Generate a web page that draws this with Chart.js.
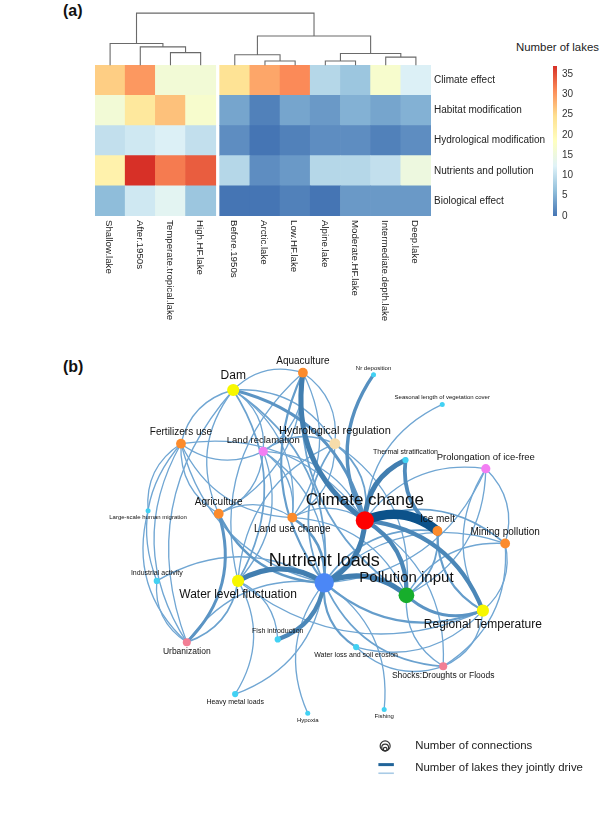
<!DOCTYPE html>
<html>
<head>
<meta charset="utf-8">
<script src="https://cdn.jsdelivr.net/npm/chart.js@4.4.1/dist/chart.umd.min.js"></script>
<style>
  html, body { margin: 0; padding: 0; background: #fff; }
  body { width: 600px; height: 817px; position: relative; overflow: hidden; font-family: "Liberation Sans", Arial, sans-serif; }
  canvas { position: absolute; }
  .panel { position: absolute; font-weight: bold; font-size: 16px; line-height: 18px; color: #111; }
  #legendTitle { position: absolute; left: 516px; top: 41px; font-size: 11.4px; line-height: 13px; color: #222; white-space: nowrap; }
</style>
</head>
<body>
<div class="panel" style="left:63px;top:2px">(a)</div>
<div class="panel" style="left:63px;top:358px">(b)</div>
<div id="legendTitle">Number of lakes</div>
<canvas id="heat" width="600" height="340" style="left:0;top:0"></canvas>
<canvas id="scale" width="100" height="230" style="left:500px;top:0"></canvas>
<canvas id="net" width="600" height="477" style="left:0;top:340px"></canvas>
<script>
Chart.defaults.font.family = '"Liberation Sans", Arial, sans-serif';

// ---------- (a) heatmap: drivers x lake types ----------
const lakeTypes = ['Shallow.lake', 'After.1950s', 'Temperate.tropical.lake', 'High.HF.lake',
  'Before.1950s', 'Arctic.lake', 'Low.HF.lake', 'Alpine.lake', 'Moderate.HF.lake',
  'Intermediate.depth.lake', 'Deep.lake'];
const driverTypes = ['Climate effect', 'Habitat modification', 'Hydrological modification',
  'Nutrients and pollution', 'Biological effect'];

const climateEffect = [26, 30, 16, 16, 24, 29, 31, 9, 7, 17, 12];
const habitatModification = [16, 23, 27, 17, 4, 1, 4, 3, 5, 4, 5];
const hydrologicalModification = [10, 11, 12, 10, 2, 0, 1, 2, 2, 1, 2];
const nutrientsPollution = [21, 37, 32, 34, 9, 2, 3, 9, 9, 10, 15];
const biologicalEffect = [6, 11, 13, 7, 0, 0, 1, 0, 3, 3, 3];
const heatValues = [climateEffect, habitatModification, hydrologicalModification, nutrientsPollution, biologicalEffect];

// column clustering, hclust style (negative = leaf, positive = earlier merge)
const colMerge = [[-3, -4], [-2, 1], [-1, 2], [-6, -7], [-8, -9], [-10, -11], [-5, 4], [5, 6], [7, 8], [3, 9]];
const colHeight = [0.42, 0.61, 0.72, 0.14, 0.14, 0.27, 0.35, 0.39, 0.97, 1.73];
const colCluster = [1, 1, 1, 1, 2, 2, 2, 2, 2, 2, 2];
const keyTicks = [0, 5, 10, 15, 20, 25, 30, 35];

const ramp = ['#4575B4', '#91BFDB', '#E0F3F8', '#FFFFBF', '#FEE090', '#FC8D59', '#D73027'];
const maxLakes = Math.max(...heatValues.flat());
const colPos = lakeTypes.map((_, i) => i + (colCluster[i] - 1) * 0.13);

function hexRgb(h) {
  const n = parseInt(h.slice(1), 16);
  return [(n >> 16) & 255, (n >> 8) & 255, n & 255];
}
function heatColor(v) {
  const t = Math.max(0, Math.min(1, v / maxLakes)) * (ramp.length - 1);
  const i = Math.min(Math.floor(t), ramp.length - 2);
  const f = t - i;
  const a = hexRgb(ramp[i]), b = hexRgb(ramp[i + 1]);
  return 'rgb(' + a.map((c, k) => Math.round(c + (b[k] - c) * f)).join(',') + ')';
}

const dendroPlugin = {
  id: 'dendro',
  afterDatasetsDraw(chart) {
    const { ctx, scales: { x, y } } = chart;
    const base = driverTypes.length;
    const mid = [];
    const node = k => k < 0
      ? { x: x.getPixelForValue(colPos[-k - 1]), h: 0 }
      : { x: mid[k - 1], h: colHeight[k - 1] };
    ctx.save();
    ctx.strokeStyle = '#6a6a6a';
    ctx.lineWidth = 1.1;
    ctx.beginPath();
    colMerge.forEach(([a, b], m) => {
      const A = node(a), B = node(b);
      const top = y.getPixelForValue(base + colHeight[m]);
      ctx.moveTo(A.x, y.getPixelForValue(base + A.h));
      ctx.lineTo(A.x, top);
      ctx.lineTo(B.x, top);
      ctx.lineTo(B.x, y.getPixelForValue(base + B.h));
      mid.push((A.x + B.x) / 2);
    });
    ctx.stroke();
    ctx.restore();
  }
};

const colLabelPlugin = {
  id: 'colLabels',
  afterDraw(chart) {
    const { ctx, scales: { x, y } } = chart;
    const top = y.getPixelForValue(0) + 4;
    ctx.save();
    ctx.fillStyle = '#222';
    ctx.font = '9.7px "Liberation Sans", Arial, sans-serif';
    ctx.textAlign = 'left';
    ctx.textBaseline = 'middle';
    lakeTypes.forEach((name, i) => {
      ctx.save();
      ctx.translate(x.getPixelForValue(colPos[i]) - 1, top);
      ctx.rotate(Math.PI / 2);
      ctx.fillText(name, 0, 0);
      ctx.restore();
    });
    ctx.restore();
  }
};

const heatDatasets = driverTypes.map((name, r) => ({
  label: name,
  data: colPos.map(x => ({ x: x, y: 1 })),
  backgroundColor: heatValues[r].map(heatColor),
  borderWidth: 0,
  barPercentage: 1,
  categoryPercentage: 1
})).reverse();

new Chart(document.getElementById('heat'), {
  type: 'bar',
  data: { datasets: heatDatasets },
  options: {
    responsive: false,
    animation: false,
    layout: { padding: { left: 95, top: 12.5, bottom: 124, right: 0 } },
    plugins: { legend: { display: false }, tooltip: { enabled: false } },
    scales: {
      x: {
        type: 'linear', stacked: true, display: false, offset: false,
        min: colPos[0] - 0.5, max: colPos[colPos.length - 1] + 0.5,
        afterBuildTicks: s => { s.ticks = colPos.map(v => ({ value: v })); }
      },
      y: {
        stacked: true, position: 'right', min: 0, max: driverTypes.length + 1.75,
        afterFit: s => { s.width = 169; },
        afterBuildTicks: s => { s.ticks = driverTypes.map((_, i) => ({ value: i + 0.5 })); },
        grid: { display: false, drawTicks: false },
        border: { display: false },
        ticks: {
          autoSkip: false, padding: 3, color: '#222', font: { size: 10 },
          callback: v => driverTypes[driverTypes.length - 1 - Math.floor(v)]
        }
      }
    }
  },
  plugins: [dendroPlugin, colLabelPlugin]
});

// colour key
function keyGradient(chart) {
  const { ctx, chartArea, scales } = chart;
  if (!chartArea) return ramp[0];
  const g = ctx.createLinearGradient(0, scales.y.getPixelForValue(0), 0, scales.y.getPixelForValue(maxLakes));
  ramp.forEach((c, i) => g.addColorStop(i / (ramp.length - 1), c));
  return g;
}

new Chart(document.getElementById('scale'), {
  type: 'bar',
  data: {
    labels: [''],
    datasets: [{ data: [[0, maxLakes]], backgroundColor: c => keyGradient(c.chart), borderWidth: 0, barPercentage: 1, categoryPercentage: 1 }]
  },
  options: {
    responsive: false,
    animation: false,
    layout: { padding: { left: 53, top: 66, bottom: 14, right: 0 } },
    plugins: { legend: { display: false }, tooltip: { enabled: false } },
    scales: {
      x: { display: false },
      y: {
        position: 'right', min: 0, max: maxLakes,
        afterFit: s => { s.width = 43; },
        afterBuildTicks: s => { s.ticks = keyTicks.map(v => ({ value: v })); },
        grid: { display: false, drawTicks: false },
        border: { display: false },
        ticks: { autoSkip: false, padding: 5, color: '#333', font: { size: 10 } }
      }
    }
  }
});

// ---------- (b) network of drivers ----------
const factors = ['Aquaculture', 'Dam', 'Nr deposition', 'Seasonal length of vegetation cover',
  'Fertilizers use', 'Land reclamation', 'Hydrological regulation', 'Thermal stratification',
  'Prolongation of ice-free', 'Large-scale human migration', 'Agriculture', 'Land use change',
  'Climate change', 'Ice melt', 'Mining pollution', 'Industrial activity', 'Water level fluctuation',
  'Nutrient loads', 'Pollution input', 'Regional Temperature', 'Urbanization', 'Fish introduction',
  'Water loss and soil erosion', 'Shocks:Droughts or Floods', 'Heavy metal loads', 'Hypoxia', 'Fishing'];
const layoutX = [303, 231, 376, 447, 177, 262, 336, 409, 492, 143, 216, 292, 367, 442, 512, 152, 236, 325, 410, 489, 183, 277, 358, 448, 233, 308, 387];
const layoutY = [24, 42, 26, 57, 98, 106, 98, 115, 124, 168, 171, 175, 178, 189, 202, 241, 241, 243, 256, 272, 305, 302, 310, 330, 359, 379, 375];
const connections = [9, 13, 1, 1, 9, 8, 11, 3, 8, 1, 9, 9, 23, 9, 9, 3, 13, 25, 19, 13, 6, 3, 3, 6, 3, 1, 1];
const factorGroup = [2, 5, 0, 0, 2, 3, 4, 0, 3, 0, 2, 2, 8, 2, 2, 0, 5, 7, 6, 5, 1, 0, 0, 1, 0, 0, 0];

// [from, to, number of lakes they jointly drive]
const links = [
  ['Climate change', 'Ice melt', 20],
  ['Climate change', 'Thermal stratification', 10],
  ['Ice melt', 'Thermal stratification', 7],
  ['Climate change', 'Aquaculture', 10],
  ['Climate change', 'Nr deposition', 6],
  ['Climate change', 'Seasonal length of vegetation cover', 1],
  ['Climate change', 'Nutrient loads', 10],
  ['Climate change', 'Pollution input', 8],
  ['Climate change', 'Regional Temperature', 8],
  ['Dam', 'Climate change', 5],
  ['Water level fluctuation', 'Nutrient loads', 10],
  ['Nutrient loads', 'Pollution input', 10],
  ['Nutrient loads', 'Fish introduction', 8],
  ['Agriculture', 'Urbanization', 5],
  ['Regional Temperature', 'Pollution input', 5],
  ['Regional Temperature', 'Ice melt', 3],
  ['Ice melt', 'Pollution input', 2],
  ['Nutrient loads', 'Ice melt', 2],
  ['Climate change', 'Prolongation of ice-free', 1],
  ['Prolongation of ice-free', 'Mining pollution', 1],
  ['Regional Temperature', 'Prolongation of ice-free', 1],
  ['Prolongation of ice-free', 'Pollution input', 1],
  ['Prolongation of ice-free', 'Nutrient loads', 1],
  ['Climate change', 'Mining pollution', 2],
  ['Mining pollution', 'Regional Temperature', 1],
  ['Pollution input', 'Mining pollution', 1],
  ['Nutrient loads', 'Mining pollution', 1],
  ['Mining pollution', 'Shocks:Droughts or Floods', 1],
  ['Regional Temperature', 'Nutrient loads', 3],
  ['Regional Temperature', 'Shocks:Droughts or Floods', 1],
  ['Regional Temperature', 'Water loss and soil erosion', 1],
  ['Shocks:Droughts or Floods', 'Pollution input', 1],
  ['Shocks:Droughts or Floods', 'Nutrient loads', 2],
  ['Climate change', 'Shocks:Droughts or Floods', 1],
  ['Water loss and soil erosion', 'Nutrient loads', 3],
  ['Shocks:Droughts or Floods', 'Water loss and soil erosion', 1],
  ['Hypoxia', 'Nutrient loads', 1],
  ['Nutrient loads', 'Fishing', 1],
  ['Water level fluctuation', 'Heavy metal loads', 1],
  ['Nutrient loads', 'Heavy metal loads', 1],
  ['Water level fluctuation', 'Fish introduction', 1],
  ['Water level fluctuation', 'Urbanization', 2],
  ['Urbanization', 'Nutrient loads', 1],
  ['Dam', 'Water level fluctuation', 2],
  ['Water level fluctuation', 'Aquaculture', 1],
  ['Land reclamation', 'Water level fluctuation', 1],
  ['Water level fluctuation', 'Hydrological regulation', 1],
  ['Regional Temperature', 'Water level fluctuation', 1],
  ['Nutrient loads', 'Agriculture', 4],
  ['Land use change', 'Nutrient loads', 4],
  ['Nutrient loads', 'Aquaculture', 3],
  ['Dam', 'Nutrient loads', 2],
  ['Nutrient loads', 'Fertilizers use', 1],
  ['Land reclamation', 'Nutrient loads', 1],
  ['Nutrient loads', 'Hydrological regulation', 2],
  ['Industrial activity', 'Nutrient loads', 1],
  ['Hydrological regulation', 'Climate change', 2],
  ['Land use change', 'Climate change', 1],
  ['Land reclamation', 'Climate change', 1],
  ['Fertilizers use', 'Climate change', 1],
  ['Pollution input', 'Aquaculture', 2],
  ['Hydrological regulation', 'Pollution input', 1],
  ['Land use change', 'Pollution input', 1],
  ['Urbanization', 'Fertilizers use', 1],
  ['Urbanization', 'Industrial activity', 1],
  ['Urbanization', 'Large-scale human migration', 1],
  ['Urbanization', 'Dam', 1],
  ['Industrial activity', 'Fertilizers use', 1],
  ['Large-scale human migration', 'Fertilizers use', 1],
  ['Fertilizers use', 'Dam', 1],
  ['Land reclamation', 'Fertilizers use', 1],
  ['Agriculture', 'Fertilizers use', 1],
  ['Land use change', 'Fertilizers use', 1],
  ['Dam', 'Aquaculture', 1],
  ['Dam', 'Land reclamation', 1],
  ['Dam', 'Land use change', 1],
  ['Agriculture', 'Dam', 1],
  ['Dam', 'Hydrological regulation', 1],
  ['Aquaculture', 'Land reclamation', 1],
  ['Aquaculture', 'Agriculture', 1],
  ['Aquaculture', 'Hydrological regulation', 1],
  ['Aquaculture', 'Land use change', 1],
  ['Land reclamation', 'Agriculture', 1],
  ['Land reclamation', 'Land use change', 1],
  ['Land reclamation', 'Hydrological regulation', 1],
  ['Hydrological regulation', 'Land use change', 1],
  ['Agriculture', 'Land use change', 1]
];

const groupColors = ['#42d1f3', '#f27f95', '#fc8b2c', '#f37ef3', '#f6dcaa', '#f7f700', '#17ae2c', '#4b87f6', '#ff0000'];
const labelBelow = new Set(['Large-scale human migration', 'Land use change', 'Water level fluctuation',
  'Urbanization', 'Heavy metal loads', 'Hypoxia', 'Water loss and soil erosion', 'Regional Temperature',
  'Shocks:Droughts or Floods', 'Fishing']);
const nodeRadius = c => 2.2 + 0.3 * c;
const labelSize = c => 5.5 + 0.5 * c;
const maxLink = Math.max(...links.map(l => l[2]));

function linkColor(w) {
  const t = (w - 1) / (maxLink - 1);
  const a = [112, 166, 211], b = [12, 82, 138];
  return 'rgb(' + a.map((c, k) => Math.round(c + (b[k] - c) * t)).join(',') + ')';
}

const linkPlugin = {
  id: 'links',
  beforeDatasetsDraw(chart) {
    const { ctx, scales: { x, y } } = chart;
    const at = name => factors.indexOf(name);
    ctx.save();
    ctx.lineCap = 'round';
    links.slice().sort((p, q) => p[2] - q[2]).forEach(([s, t, w]) => {
      const i = at(s), j = at(t);
      const x1 = x.getPixelForValue(layoutX[i]), y1 = y.getPixelForValue(layoutY[i]);
      const x2 = x.getPixelForValue(layoutX[j]), y2 = y.getPixelForValue(layoutY[j]);
      const dx = x2 - x1, dy = y2 - y1;
      const bend = 0.3;
      ctx.beginPath();
      ctx.moveTo(x1, y1);
      ctx.quadraticCurveTo((x1 + x2) / 2 + dy * bend, (y1 + y2) / 2 - dx * bend, x2, y2);
      ctx.lineWidth = 0.9 + 0.42 * w;
      ctx.strokeStyle = linkColor(w);
      ctx.stroke();
    });
    ctx.restore();
  }
};

const nodeLabelPlugin = {
  id: 'nodeLabels',
  afterDatasetsDraw(chart) {
    const { ctx, scales: { x, y } } = chart;
    ctx.save();
    ctx.fillStyle = '#111';
    ctx.textAlign = 'center';
    ctx.textBaseline = 'middle';
    factors.forEach((name, i) => {
      const size = labelSize(connections[i]);
      const off = nodeRadius(connections[i]) + 0.62 * size + 0.5;
      ctx.font = size + 'px "Liberation Sans", Arial, sans-serif';
      ctx.fillText(name, x.getPixelForValue(layoutX[i]),
        y.getPixelForValue(layoutY[i]) + (labelBelow.has(name) ? off : -off));
    });
    ctx.restore();
  }
};

const netLegendPlugin = {
  id: 'netLegend',
  afterDraw(chart) {
    const { ctx, scales: { x, y } } = chart;
    const ix = x.getPixelForValue(388), iy = y.getPixelForValue(413);
    ctx.save();
    ctx.strokeStyle = '#333';
    ctx.lineWidth = 1.2;
    [5, 3.4, 1.8].forEach(r => {
      ctx.beginPath();
      ctx.arc(ix, iy + 5 - r, r, 0, Math.PI * 2);
      ctx.stroke();
    });
    const lx1 = x.getPixelForValue(381), lx2 = x.getPixelForValue(397);
    ctx.lineWidth = 3;
    ctx.strokeStyle = linkColor(maxLink * 0.8);
    ctx.beginPath(); ctx.moveTo(lx1, y.getPixelForValue(432.5)); ctx.lineTo(lx2, y.getPixelForValue(432.5)); ctx.stroke();
    ctx.lineWidth = 1.6;
    ctx.strokeStyle = '#a9cbe6';
    ctx.beginPath(); ctx.moveTo(lx1, y.getPixelForValue(441.5)); ctx.lineTo(lx2, y.getPixelForValue(441.5)); ctx.stroke();
    ctx.fillStyle = '#222';
    ctx.font = '11.4px "Liberation Sans", Arial, sans-serif';
    ctx.textAlign = 'left';
    ctx.textBaseline = 'middle';
    ctx.fillText('Number of connections', x.getPixelForValue(419), iy);
    ctx.fillText('Number of lakes they jointly drive', x.getPixelForValue(419), y.getPixelForValue(436));
    ctx.restore();
  }
};

new Chart(document.getElementById('net'), {
  type: 'scatter',
  data: {
    datasets: [{
      data: factors.map((_, i) => ({ x: layoutX[i], y: layoutY[i] })),
      pointRadius: connections.map(nodeRadius),
      pointHoverRadius: connections.map(nodeRadius),
      pointBackgroundColor: factorGroup.map(g => groupColors[g]),
      pointBorderWidth: 0
    }]
  },
  options: {
    responsive: false,
    animation: false,
    layout: { padding: 0 },
    plugins: { legend: { display: false }, tooltip: { enabled: false } },
    scales: {
      x: { type: 'linear', min: 0, max: 600, display: false },
      y: { type: 'linear', min: 0, max: 477, reverse: true, display: false }
    }
  },
  plugins: [linkPlugin, nodeLabelPlugin, netLegendPlugin]
});
</script>
</body>
</html>
